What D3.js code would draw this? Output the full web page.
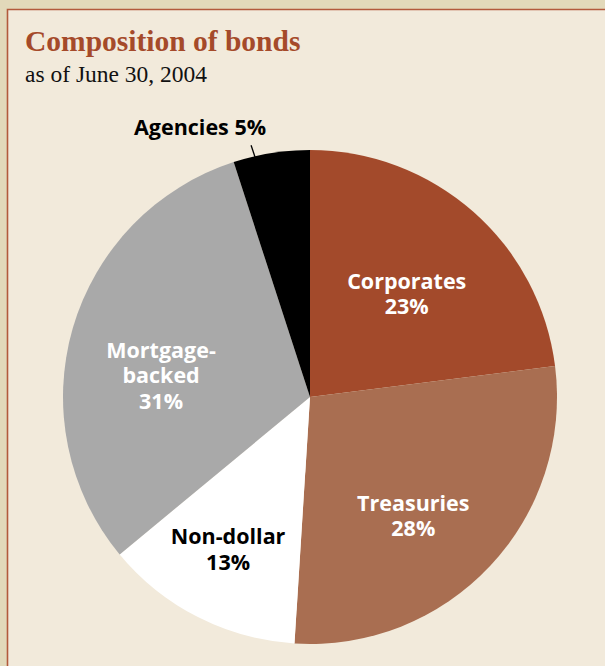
<!DOCTYPE html>
<html>
<head>
<meta charset="utf-8">
<script src="https://cdn.jsdelivr.net/npm/d3@7"></script>
<style>
  html, body { margin: 0; padding: 0; background: #e2d9ba; }
  svg { display: block; }
</style>
</head>
<body>
<svg id="chart" width="605" height="666"></svg>
<script>
// Bond composition, share of portfolio (%), clockwise from 12 o'clock
const categories = ["Corporates", "Treasuries", "Non-dollar", "Mortgage-backed", "Agencies"];
const shares = [23, 28, 13, 31, 5];
const labelLines = [["Corporates"], ["Treasuries"], ["Non-dollar"], ["Mortgage-", "backed"], ["Agencies"]];
const sliceColors = ["#a34a2b", "#a96e51", "#ffffff", "#a9a9a9", "#000000"];
const labelColors = ["#ffffff", "#ffffff", "#000000", "#ffffff", "#000000"];

const svg = d3.select("#chart");
const W = 605, H = 666;

// outer band and framed panel
svg.append("rect").attr("width", W).attr("height", H).attr("fill", "#e2d9ba");
svg.append("rect").attr("x", 7).attr("y", 9).attr("width", W - 7).attr("height", H - 9)
  .attr("fill", "#f2eadb");
svg.append("path").attr("d", `M7.5,${H} V9.5 H${W}`)
  .attr("fill", "none").attr("stroke", "#b25a3c").attr("stroke-width", 1.6);

// title block
svg.append("text").attr("x", 25).attr("y", 51)
  .attr("font-family", "Liberation Serif, serif").attr("font-weight", "bold")
  .attr("font-size", 29.5).attr("fill", "#a54a2a")
  .text("Composition of bonds");
svg.append("text").attr("x", 25).attr("y", 82)
  .attr("font-family", "Liberation Serif, serif")
  .attr("font-size", 23.5).attr("fill", "#111")
  .text("as of June 30, 2004");

// pie
const cx = 310, cy = 397, R = 247;
const pie = d3.pie().value(d => d).sort(null);
const arcs = pie(shares);
const arc = d3.arc().innerRadius(0).outerRadius(R);

const g = svg.append("g").attr("transform", `translate(${cx},${cy})`);
g.selectAll("path.slice").data(arcs).enter().append("path")
  .attr("class", "slice")
  .attr("d", arc)
  .attr("fill", (d, i) => sliceColors[i]);

// label placement: radius fraction and angular nudge (degrees) per slice
const placement = [
  { r: 0.57, da: 2 },
  { r: 0.64, da: 6 },
  { r: 0.702, da: 1.2 },
  { r: 0.609, da: -8.2 },
  null
];
const lineH = 25.5;
const fontLab = "'Open Sans', sans-serif";
const labSize = 21.5;
const rad = deg => deg * Math.PI / 180;

arcs.forEach((d, i) => {
  const p = placement[i];
  const lines = labelLines[i].concat([shares[i] + "%"]);
  if (p) {
    const a = (d.startAngle + d.endAngle) / 2 + rad(p.da);
    const x = Math.sin(a) * R * p.r;
    const y = -Math.cos(a) * R * p.r;
    const y0 = y - (lines.length - 1) * lineH / 2 + 7;
    lines.forEach((s, k) => {
      g.append("text")
        .attr("x", x).attr("y", y0 + k * lineH)
        .attr("text-anchor", "middle")
        .attr("font-family", fontLab).attr("font-weight", "bold")
        .attr("font-size", labSize).attr("fill", labelColors[i])
        .text(s);
    });
  } else {
    // small slice: label outside with a short leader line
    const a = (d.startAngle + d.endAngle) / 2 - rad(3.9);
    const p1 = [Math.sin(a) * (R - 1), -Math.cos(a) * (R - 1)];
    const b = a - rad(5.7);
    const p2 = [p1[0] + Math.sin(b) * 12.6, p1[1] - Math.cos(b) * 12.6];
    g.append("line")
      .attr("x1", p1[0]).attr("y1", p1[1]).attr("x2", p2[0]).attr("y2", p2[1])
      .attr("stroke", "#000").attr("stroke-width", 1.3);
    g.append("text")
      .attr("x", p2[0] + 15).attr("y", p2[1] - 10)
      .attr("text-anchor", "end")
      .attr("font-family", fontLab).attr("font-weight", "bold")
      .attr("font-size", labSize).attr("fill", labelColors[i])
      .text(labelLines[i][0] + " " + shares[i] + "%");
  }
});
</script>
</body>
</html>
